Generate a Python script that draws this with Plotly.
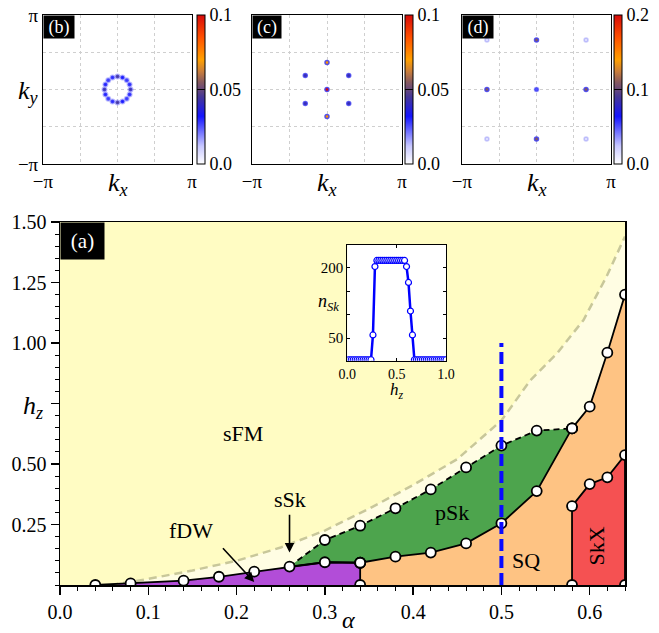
import math
import plotly.graph_objects as go

W, H = 659, 633


def px(x):
    return x / W


def py(y):
    return 1 - y / H


# ---------------- DATA: main phase diagram (alpha, h_z) ----------------
fdw_alpha = [0.04, 0.08, 0.14, 0.18, 0.22, 0.26, 0.30, 0.34]
fdw_h = [0.0, 0.007, 0.018, 0.034, 0.055, 0.076, 0.094, 0.092]

psk_alpha = [0.26, 0.30, 0.34, 0.38, 0.42, 0.46, 0.50, 0.54, 0.58]
psk_lower_h = [0.076, 0.094, 0.092, 0.117, 0.134, 0.172, 0.255, 0.388, 0.647]
psk_upper_h = [0.076, 0.186, 0.245, 0.317, 0.395, 0.486, 0.576, 0.638, 0.647]

sq_upper_alpha = [0.58, 0.60, 0.62, 0.64]
sq_upper_h = [0.647, 0.737, 0.960, 1.200]

sq_wall_alpha = [0.34, 0.34]
sq_wall_h = [0.0, 0.092]

skx_alpha = [0.58, 0.58, 0.60, 0.62, 0.64, 0.64]
skx_h = [0.0, 0.326, 0.417, 0.445, 0.537, 0.0]

crossover_alpha = [0.057, 0.10, 0.15, 0.20, 0.25, 0.30, 0.35, 0.40, 0.45,
                   0.50, 0.533, 0.563, 0.593, 0.619, 0.64]
crossover_h = [0.0, 0.025, 0.06, 0.10, 0.155, 0.225, 0.315, 0.413, 0.52,
               0.68, 0.847, 0.957, 1.095, 1.274, 1.44]

cut_alpha = [0.50, 0.50]
cut_h = [0.0, 1.0]

alpha_ticks = [0.0, 0.1, 0.2, 0.3, 0.4, 0.5, 0.6]
alpha_ticktext = ["0.0", "0.1", "0.2", "0.3", "0.4", "0.5", "0.6"]
hz_ticks = [0.25, 0.50, 0.75, 1.00, 1.25, 1.50]
hz_ticktext = ["0.25", "0.50", " ", "1.00", "1.25", "1.50"]

phase_names = ["sFM", "sSk", "fDW", "pSk", "SQ", "SkX"]

# ---------------- DATA: inset n_Sk vs h_z ----------------
inset_hz = [0.00, 0.02, 0.04, 0.06, 0.08, 0.10, 0.12, 0.14, 0.16, 0.18,
            0.20, 0.22, 0.24, 0.26, 0.28, 0.30, 0.32, 0.34, 0.36, 0.38,
            0.40, 0.42, 0.44, 0.46, 0.48, 0.50, 0.52, 0.54, 0.56, 0.58,
            0.60, 0.62, 0.64, 0.66, 0.68, 0.70, 0.72, 0.74, 0.76, 0.78,
            0.80, 0.82, 0.84, 0.86, 0.88, 0.90, 0.92, 0.94, 0.96, 0.98, 1.00]
inset_nsk = [4, 4, 4, 4, 4, 4, 4, 4, 4, 4,
             4, 4, 4, 57, 203, 216, 216, 216, 216, 216,
             216, 216, 216, 216, 216, 216, 216, 216, 216, 216,
             203, 169, 108, 57, 4, 4, 4, 4, 4, 4,
             4, 4, 4, 4, 4, 4, 4, 4, 4, 4, 4]
inset_xticks = [0.0, 0.5, 1.0]
inset_xticktext = ["0.0", "0.5", "1.0"]
inset_yticks = [50, 100, 150, 200]
inset_yticktext = ["50", " ", " ", "200"]

# ---------------- DATA: structure-factor panels (b), (c), (d) ----------------
b_kx = [0.55, 0.51, 0.39, 0.21, 0.0, -0.21, -0.39, -0.51,
        -0.55, -0.51, -0.39, -0.21, 0.0, 0.21, 0.39, 0.51]
b_ky = [0.0, 0.21, 0.39, 0.51, 0.55, 0.51, 0.39, 0.21,
        0.0, -0.21, -0.39, -0.51, -0.55, -0.51, -0.39, -0.21]
b_val = [0.042, 0.030, 0.028, 0.032, 0.045, 0.030, 0.028, 0.031,
         0.042, 0.031, 0.028, 0.030, 0.045, 0.032, 0.028, 0.030]

c_kx = [0.0, 0.0, 0.0, -0.91, 0.91, -0.91, 0.91]
c_ky = [0.0, 1.14, -1.14, 0.59, 0.59, -0.59, -0.59]
c_val = [0.10, 0.072, 0.072, 0.042, 0.042, 0.042, 0.042]

d_kx = [0.0, 0.0, -2.09, 2.09, 0.0, -2.09, 2.09, -2.09, 2.09]
d_ky = [2.09, -2.09, 0.0, 0.0, 0.0, 2.09, 2.09, -2.09, -2.09]
d_val = [0.11, 0.11, 0.11, 0.11, 0.05, 0.015, 0.015, 0.015, 0.015]

k_ticks = [-math.pi, -math.pi / 2, 0.0, math.pi / 2, math.pi]
k_ticktext = ["\u2212\u03c0", " ", " ", " ", "\u03c0"]
cbar_ticks_01 = [0.0, 0.05, 0.1]
cbar_text_01 = ["0.0", "0.05", "0.1"]
cbar_ticks_02 = [0.0, 0.1, 0.2]
cbar_text_02 = ["0.0", "0.1", "0.2"]

# ---------------- styles ----------------
FONT = "Liberation Serif, Times New Roman, serif"
C_SFM = "#FFFCC3"
C_CREAM = "#FFFDE3"
C_FDW = "#B24DD8"
C_PSK = "#4DA44D"
C_SQ = "#FEC383"
C_SKX = "#F55152"
C_CROSS = "#C8C79A"
CSCALE = [
    [0.0, "rgb(255,255,255)"],
    [0.12, "rgb(200,200,255)"],
    [0.32, "rgb(20,20,255)"],
    [0.45, "rgb(70,55,150)"],
    [0.55, "rgb(135,90,95)"],
    [0.62, "rgb(200,125,60)"],
    [0.70, "rgb(255,160,0)"],
    [0.85, "rgb(255,80,0)"],
    [1.0, "rgb(215,10,10)"],
]

fig = go.Figure()

# ---- main diagram regions ----
fig.add_trace(go.Scatter(x=crossover_alpha + [0.64], y=crossover_h + [0.0],
                         fill="toself", fillcolor=C_CREAM, mode="none",
                         xaxis="x", yaxis="y", hoverinfo="skip"))
fig.add_trace(go.Scatter(x=fdw_alpha + [0.34], y=fdw_h + [0.0],
                         fill="toself", fillcolor=C_FDW, mode="none",
                         xaxis="x", yaxis="y", hoverinfo="skip"))
fig.add_trace(go.Scatter(x=psk_alpha + psk_alpha[::-1],
                         y=psk_upper_h + psk_lower_h[::-1],
                         fill="toself", fillcolor=C_PSK, mode="none",
                         xaxis="x", yaxis="y", hoverinfo="skip"))
fig.add_trace(go.Scatter(x=[sq_wall_alpha[0]] + psk_alpha[2:] + sq_upper_alpha[1:] + [0.64],
                         y=[sq_wall_h[0]] + psk_lower_h[2:] + sq_upper_h[1:] + [0.0],
                         fill="toself", fillcolor=C_SQ, mode="none",
                         xaxis="x", yaxis="y", hoverinfo="skip"))
fig.add_trace(go.Scatter(x=skx_alpha, y=skx_h, fill="toself", fillcolor=C_SKX,
                         mode="none", xaxis="x", yaxis="y", hoverinfo="skip"))

# crossover (gray dashed)
fig.add_trace(go.Scatter(x=crossover_alpha, y=crossover_h, mode="lines",
                         line=dict(color=C_CROSS, width=2.5, dash="8px,5px"),
                         xaxis="x", yaxis="y", hoverinfo="skip"))

# boundaries
line_solid = dict(color="black", width=1.8)
for xa, ya in [(fdw_alpha, fdw_h), (psk_alpha, psk_lower_h),
               (sq_upper_alpha, sq_upper_h), (sq_wall_alpha, sq_wall_h),
               (skx_alpha, skx_h)]:
    fig.add_trace(go.Scatter(x=xa, y=ya, mode="lines", line=line_solid,
                             xaxis="x", yaxis="y", hoverinfo="skip"))
fig.add_trace(go.Scatter(x=psk_alpha, y=psk_upper_h, mode="lines",
                         line=dict(color="black", width=1.8, dash="6px,4px"),
                         xaxis="x", yaxis="y", hoverinfo="skip"))

# markers
mk_x = fdw_alpha + psk_alpha[2:] + psk_alpha[1:] + sq_upper_alpha + skx_alpha + sq_wall_alpha
mk_y = fdw_h + psk_lower_h[2:] + psk_upper_h[1:] + sq_upper_h + skx_h + sq_wall_h
fig.add_trace(go.Scatter(x=mk_x, y=mk_y, mode="markers",
                         marker=dict(size=10, color="white",
                                     line=dict(color="black", width=1.8)),
                         xaxis="x", yaxis="y", hoverinfo="skip"))

# blue cut
fig.add_trace(go.Scatter(x=cut_alpha, y=cut_h, mode="lines",
                         line=dict(color="#0A0AFF", width=4, dash="12px,5px"),
                         xaxis="x", yaxis="y", hoverinfo="skip"))

# ---- inset ----
fig.add_trace(go.Scatter(x=inset_hz, y=inset_nsk, mode="lines+markers",
                         line=dict(color="#0000FF", width=2.5),
                         marker=dict(size=6, color="white",
                                     line=dict(color="#0000FF", width=1.2)),
                         xaxis="x3", yaxis="y3", hoverinfo="skip"))

# ---- structure-factor panels ----
def cbar(xpix, ticks, text):
    return dict(x=px(xpix), xanchor="left", xpad=0, ypad=0, thickness=8,
                len=(164 - 15) / H, lenmode="fraction", y=py((15 + 164) / 2),
                yanchor="middle", outlinewidth=1, outlinecolor="black",
                tickvals=ticks, ticktext=text, ticks="inside", ticklen=8,
                tickcolor="black", tickwidth=1,
                tickfont=dict(family=FONT, size=18, color="black"))


def halo(vals, vmax):
    out = []
    for v in vals:
        a = min(0.85, 0.15 + 1.5 * v / vmax)
        out.append(f"rgba(60,60,240,{a:.2f})")
    return out


fig.add_trace(go.Scatter(x=b_kx, y=b_ky, mode="markers", xaxis="x4", yaxis="y4",
                         marker=dict(size=4, color=b_val, colorscale=CSCALE,
                                     cmin=0, cmax=0.1, showscale=True,
                                     line=dict(color="rgba(110,110,255,0.45)", width=2),
                                     colorbar=cbar(197, cbar_ticks_01, cbar_text_01)),
                         hoverinfo="skip"))
fig.add_trace(go.Scatter(x=c_kx, y=c_ky, mode="markers", xaxis="x5", yaxis="y5",
                         marker=dict(size=4, color=c_val, colorscale=CSCALE,
                                     cmin=0, cmax=0.1, showscale=True,
                                     line=dict(color=halo(c_val, 0.1), width=1.5),
                                     colorbar=cbar(405, cbar_ticks_01, cbar_text_01)),
                         hoverinfo="skip"))
fig.add_trace(go.Scatter(x=d_kx, y=d_ky, mode="markers", xaxis="x6", yaxis="y6",
                         marker=dict(size=4, color=d_val, colorscale=CSCALE,
                                     cmin=0, cmax=0.2, showscale=True,
                                     line=dict(color=halo(d_val, 0.2), width=1.5),
                                     colorbar=cbar(614, cbar_ticks_02, cbar_text_02)),
                         hoverinfo="skip"))

# ---------------- layout ----------------
tickfont = dict(family=FONT, size=20, color="black")
layout = dict(
    width=W, height=H, autosize=False, showlegend=False,
    margin=dict(l=0, r=0, t=0, b=0, autoexpand=False),
    paper_bgcolor="white", plot_bgcolor="white",
    font=dict(family=FONT, color="black"),
    xaxis=dict(domain=[px(60), px(625)], range=[0, 0.64], anchor="y", automargin=False,
               tickmode="array", tickvals=alpha_ticks, ticktext=alpha_ticktext,
               ticks="outside", ticklen=8, tickwidth=1.5, tickcolor="black",
               minor=dict(tickmode="linear", tick0=0, dtick=0.02, ticks="outside",
                          ticklen=4, tickwidth=1, tickcolor="black"),
               showline=True, linecolor="black", linewidth=1.5, mirror=True,
               showgrid=False, zeroline=False, tickfont=tickfont),
    yaxis=dict(domain=[py(585), py(222)], range=[0, 1.5], anchor="x", automargin=False,
               tickmode="array", tickvals=hz_ticks, ticktext=hz_ticktext,
               ticks="outside", ticklen=8, tickwidth=1.5, tickcolor="black",
               minor=dict(tickmode="linear", tick0=0, dtick=0.05, ticks="outside",
                          ticklen=4, tickwidth=1, tickcolor="black"),
               showline=True, linecolor="black", linewidth=1.5, mirror=True,
               showgrid=False, zeroline=False, tickfont=tickfont),
    xaxis2=dict(domain=[px(316), px(459)], range=[0, 1], anchor="y2", automargin=False,
                showline=False, showticklabels=False, showgrid=False,
                zeroline=False, ticks=""),
    yaxis2=dict(domain=[py(399), py(244)], range=[0, 1], anchor="x2", automargin=False,
                showline=False, showticklabels=False, showgrid=False,
                zeroline=False, ticks=""),
    xaxis3=dict(domain=[px(347.3), px(446)], range=[0, 1], anchor="y3", automargin=False,
                tickmode="array", tickvals=inset_xticks, ticktext=inset_xticktext,
                ticks="inside", ticklen=3, tickcolor="black",
                showline=True, linecolor="black", linewidth=1, mirror="ticks",
                showgrid=False, zeroline=False,
                tickfont=dict(family=FONT, size=14, color="black")),
    yaxis3=dict(domain=[py(360.7), py(245)], range=[2, 249], anchor="x3", automargin=False,
                tickmode="array", tickvals=inset_yticks, ticktext=inset_yticktext,
                ticks="inside", ticklen=3, tickcolor="black",
                showline=True, linecolor="black", linewidth=1, mirror="ticks",
                showgrid=False, zeroline=False,
                tickfont=dict(family=FONT, size=15, color="black")),
)

panel_x = {4: (43, 192), 5: (252, 402), 6: (462, 611)}
for i, (x0, x1) in panel_x.items():
    layout[f"xaxis{i}"] = dict(
        domain=[px(x0), px(x1)], range=[-math.pi, math.pi], anchor=f"y{i}",
        automargin=False,
        tickmode="array", tickvals=k_ticks, ticktext=k_ticktext, ticks="",
        showgrid=True, gridcolor="#cfcfcf", griddash="dot", gridwidth=1,
        showline=True, linecolor="black", linewidth=1, mirror=True, zeroline=False,
        tickfont=dict(family=FONT, size=19, color="black"))
    layout[f"yaxis{i}"] = dict(
        domain=[py(164), py(15)], range=[-math.pi, math.pi], anchor=f"x{i}",
        automargin=False,
        tickmode="array", tickvals=k_ticks, ticktext=k_ticktext, ticks="",
        showticklabels=(i == 4),
        showgrid=True, gridcolor="#cfcfcf", griddash="dot", gridwidth=1,
        showline=True, linecolor="black", linewidth=1, mirror=True, zeroline=False,
        tickfont=dict(family=FONT, size=19, color="black"))

fig.update_layout(**layout)

# ---------------- annotations ----------------
ann = []


def label(text, x, y, size, color="black"):
    return dict(text=text, xref="paper", yref="paper", x=px(x), y=py(y),
                xanchor="center", yanchor="middle", showarrow=False,
                font=dict(family=FONT, size=size, color=color))


for tag, x0, y0, w, h, fs in [("(a)", 60, 222, 43, 36, 21), ("(b)", 43, 15, 30, 22, 18),
                              ("(c)", 252, 15, 28, 22, 18), ("(d)", 462, 15, 30, 22, 18)]:
    ann.append(dict(text=tag, xref="paper", yref="paper", x=px(x0), y=py(y0),
                    xanchor="left", yanchor="top", showarrow=False, bgcolor="black",
                    width=w, height=h, borderpad=0, align="center", valign="middle",
                    font=dict(family=FONT, size=fs, color="white")))
ann.append(label("<i>\u03b1</i>", 348, 620, 24))
ann.append(label("<i>h</i><sub><i>z</i></sub>", 33, 407, 26))
for xc in [117.5, 327, 536.5]:
    ann.append(label("<i>k</i><sub><i>x</i></sub>", xc, 184, 26))
ann.append(label("<i>k</i><sub><i>y</i></sub>", 28, 92, 26))
ann.append(label("<i>n</i><sub><i>Sk</i></sub>", 328, 303, 18))
ann.append(label("<i>h</i><sub><i>z</i></sub>", 397, 391, 17))

label_pos = [(0.207, 0.628, 0), (0.261, 0.355, 0), (0.148, 0.227, 0),
             (0.4435, 0.300, 0), (0.528, 0.100, 0), (0.608, 0.162, -90)]
for name, (ax_, ay_, rot) in zip(phase_names, label_pos):
    ann.append(dict(text=name, xref="x", yref="y", x=ax_, y=ay_, showarrow=False,
                    xanchor="center", yanchor="middle",
                    textangle=rot, font=dict(family=FONT, size=22, color="black")))
ann.append(dict(text="", xref="x", yref="y", x=0.26, y=0.134, axref="x", ayref="y",
                ax=0.26, ay=0.296, showarrow=True, arrowhead=2, arrowsize=1.2,
                arrowwidth=1.6, arrowcolor="black"))
ann.append(dict(text="", xref="x", yref="y", x=0.22, y=0.012, axref="x", ayref="y",
                ax=0.183, ay=0.158, showarrow=True, arrowhead=2, arrowsize=1.2,
                arrowwidth=1.6, arrowcolor="black"))

fig.update_layout(
    annotations=ann,
    shapes=[dict(type="rect", xref="x domain", yref="y domain", x0=0, x1=1, y0=0, y1=1,
                 fillcolor=C_SFM, line=dict(width=0), layer="below")],
)

fig.write_html(
    "out.html",
    config={"displayModeBar": False, "staticPlot": True},
    post_script="document.body.style.margin='0';document.body.style.padding='0';"
                "document.body.style.overflow='hidden';",
)
